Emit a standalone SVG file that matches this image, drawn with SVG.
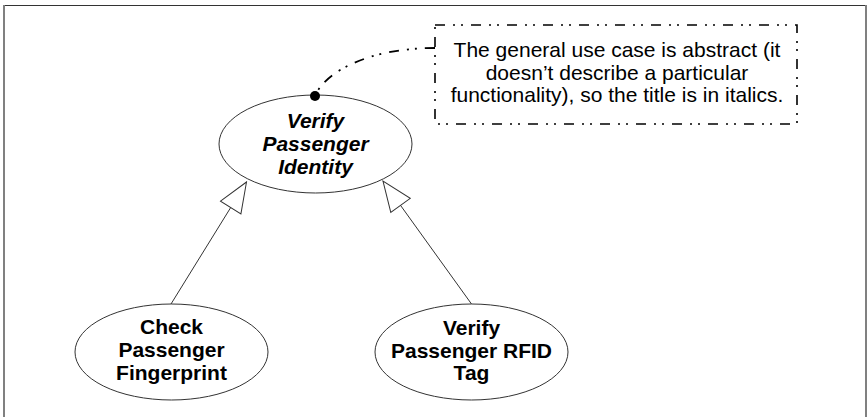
<svg xmlns="http://www.w3.org/2000/svg" width="868" height="417" viewBox="0 0 868 417">
<style>
.frame-top{stroke:#333;stroke-width:1.2;fill:none}
.frame-side{stroke:#808080;stroke-width:2;fill:none}
.uc{fill:#fff;stroke:#333;stroke-width:1}
.t{font-family:"Liberation Sans",Arial,sans-serif;font-size:21px;font-weight:bold;fill:#000;text-anchor:middle}
.ti{font-style:italic}
.note{fill:#fff;stroke:#000;stroke-width:1.6;stroke-dasharray:10 8 2 6 2 8}
.nt{font-family:"Liberation Sans",Arial,sans-serif;font-size:21px;fill:#000;text-anchor:middle}
.gen{stroke:#333;stroke-width:1;fill:none}
.anchor{stroke:#000;stroke-width:1.8;fill:none;stroke-dasharray:10 8 2 6 2 8}
</style>
<defs>
<marker id="tri" viewBox="0 0 32 26" refX="31" refY="13" markerWidth="32" markerHeight="26" markerUnits="userSpaceOnUse" orient="auto">
<path d="M1,1 L31,13 L1,25 Z" fill="#fff" stroke="#333" stroke-width="1"/>
</marker>
</defs>
<rect width="868" height="417" fill="#fff"/>
<line class="frame-top" x1="4" y1="5.5" x2="866" y2="5.5"/>
<line class="frame-side" x1="4" y1="5" x2="4" y2="417"/>
<line class="frame-side" x1="866" y1="5" x2="866" y2="417"/>

<g id="verify-passenger-identity">
<ellipse class="uc" cx="315.5" cy="144" rx="96.5" ry="49"/>
<text class="t ti" x="315.5" y="128">Verify</text>
<text class="t ti" x="315.5" y="151">Passenger</text>
<text class="t ti" x="315.5" y="174">Identity</text>
</g>

<g id="check-passenger-fingerprint">
<ellipse class="uc" cx="171.5" cy="352" rx="96.5" ry="48"/>
<text class="t" x="171.5" y="334">Check</text>
<text class="t" x="171.5" y="357">Passenger</text>
<text class="t" x="171.5" y="380">Fingerprint</text>
</g>

<g id="verify-passenger-rfid-tag">
<ellipse class="uc" cx="471.5" cy="352" rx="96.5" ry="48"/>
<text class="t" x="471.5" y="335">Verify</text>
<text class="t" x="471.5" y="358">Passenger RFID</text>
<text class="t" x="471.5" y="380">Tag</text>
</g>

<g id="note">
<rect class="note" x="435" y="25" width="362" height="99"/>
<text class="nt" x="617" y="57">The general use case is abstract (it</text>
<text class="nt" x="617" y="80">doesn’t describe a particular</text>
<text class="nt" x="617" y="102">functionality), so the title is in italics.</text>
</g>

<g id="connectors">
<line class="gen" x1="171" y1="304" x2="246.5" y2="182" marker-end="url(#tri)"/>
<line class="gen" x1="471.5" y1="304" x2="383" y2="181" marker-end="url(#tri)"/>
<path class="anchor" d="M435,48 C372,48 326,70 315,96"/>
<circle cx="315" cy="96" r="5" fill="#000"/>
</g>
</svg>
